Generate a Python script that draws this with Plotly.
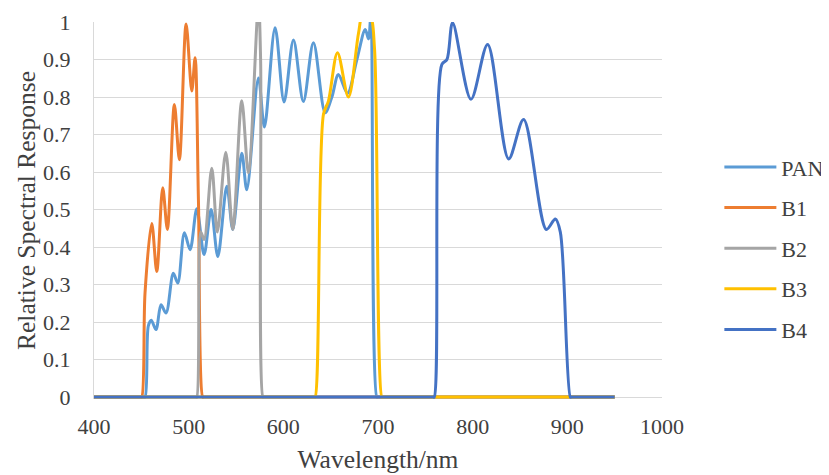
import plotly.graph_objects as go

# Wavelength (nm) and relative spectral response
pan_wl = [400, 452, 453.9, 457.4, 460.5, 465.5, 470.8, 476.1, 483.8, 488.5, 495.5, 501.5, 508.6,
          516.3, 523.7, 530.8, 540.3, 546.6, 556.1, 561.4, 573.7, 580.0, 591.3, 600.8, 610.7,
          621.2, 631.8, 644.2, 651.3, 658.2, 667.8, 677.7, 686.5, 690.0, 692.5, 698.8, 700, 950]
pan_val = [0, 0, 0, 0.19, 0.205, 0.18, 0.246, 0.224, 0.33, 0.304, 0.438, 0.393, 0.502,
           0.38, 0.5, 0.375, 0.562, 0.447, 0.65, 0.553, 0.851, 0.72, 0.985, 0.787, 0.952,
           0.788, 0.945, 0.758, 0.8, 0.86, 0.81, 0.9, 0.98, 0.955, 1.02, 0, 0, 0]

b1_wl = [400, 449, 450.4, 453.9, 461.0, 466.3, 472.6, 477.5, 484.9, 490.2, 497.3, 503.3, 506.8,
         510.3, 514.9, 516, 950]
b1_val = [0, 0, 0, 0.278, 0.463, 0.335, 0.558, 0.447, 0.78, 0.633, 0.995, 0.816, 0.905,
          0.527, 0, 0, 0]

b2_wl = [400, 507.5, 508.6, 512.8, 516.3, 524.4, 530.3, 539.2, 546.6, 556.1, 563.1, 573.7,
         576.0, 578.5, 579.5, 950]
b2_val = [0, 0, 0, 0.44, 0.42, 0.61, 0.44, 0.653, 0.447, 0.79, 0.598, 1.05,
          0.9, 0, 0, 0]

b3_wl = [400, 632.5, 633.6, 642.4, 647.7, 657.2, 668.8, 679.4, 684.7, 691.8, 696.3, 704.1,
         705.2, 950]
b3_val = [0, 0, 0, 0.754, 0.79, 0.918, 0.8, 0.97, 1.03, 1.02, 0.93, 0,
          0, 0]

b4_wl = [400, 758, 759.4, 767.5, 772.8, 778.8, 798.2, 815.8, 838.0, 853.8, 877.8, 887.3,
         892.6, 903.2, 904.5, 950]
b4_val = [0, 0, 0, 0.887, 0.9, 0.998, 0.794, 0.94, 0.635, 0.74, 0.447, 0.475,
          0.44, 0, 0, 0]

series = [
    ("PAN", pan_wl, pan_val, "#5B9BD5"),
    ("B1", b1_wl, b1_val, "#ED7D31"),
    ("B2", b2_wl, b2_val, "#A5A5A5"),
    ("B3", b3_wl, b3_val, "#FFC000"),
    ("B4", b4_wl, b4_val, "#4472C4"),
]

x_ticks = [400, 500, 600, 700, 800, 900, 1000]
y_ticks = [0, 0.1, 0.2, 0.3, 0.4, 0.5, 0.6, 0.7, 0.8, 0.9, 1]
y_ticktext = ["0", "0.1", "0.2", "0.3", "0.4", "0.5", "0.6", "0.7", "0.8", "0.9", "1"]

FONT = "Liberation Serif, Times New Roman, serif"
TXT = "#404040"

fig = go.Figure()
for name, xs, ys, col in series:
    fig.add_trace(go.Scatter(
        x=xs, y=ys, name=name, mode="lines", legendgroup=name,
        line=dict(color=col, width=3, shape="spline", smoothing=0.9),
    ))

# the page body adds an 8px offset, so the figure is sized to fill the rest of the window
fig.update_layout(
    width=821, height=467,
    margin=dict(l=86, r=167, t=14, b=76, autoexpand=False),
    plot_bgcolor="white", paper_bgcolor="white",
    font=dict(family=FONT, size=22, color=TXT),
    legend=dict(
        x=1.101, xanchor="left", y=0.40, yanchor="middle",
        font=dict(family=FONT, size=22, color=TXT),
        itemwidth=52, tracegroupgap=9, bgcolor="rgba(0,0,0,0)",
    ),
    xaxis=dict(
        range=[400, 1000], tickvals=x_ticks, ticktext=[str(v) for v in x_ticks],
        showgrid=False, zeroline=False, showline=False, ticks="",
        ticklabelstandoff=12, automargin=False,
        tickfont=dict(family=FONT, size=22, color=TXT),
        title=dict(text="Wavelength/nm", font=dict(family=FONT, size=25.5, color=TXT), standoff=12),
    ),
    yaxis=dict(
        range=[-0.005, 1.0], tickvals=y_ticks, ticktext=y_ticktext,
        showgrid=True, gridcolor="#D9D9D9", gridwidth=1.3, zeroline=False,
        showline=True, linecolor="#D9D9D9", linewidth=1.3, ticks="",
        ticklabelstandoff=18, automargin=False,
        tickfont=dict(family=FONT, size=22, color=TXT),
        title=dict(text="Relative Spectral Response", font=dict(family=FONT, size=25.5, color=TXT),
                   standoff=0),
    ),
)

fig.write_html("out.html")
